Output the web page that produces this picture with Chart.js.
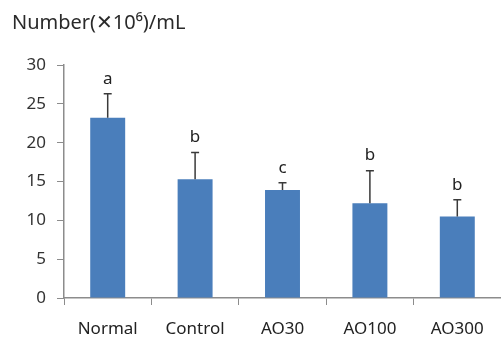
<!DOCTYPE html>
<html>
<head>
<meta charset="utf-8">
<script src="https://cdn.jsdelivr.net/npm/chart.js@4"></script>
<style>
  body { margin: 0; background: #fff; }
  canvas { display: block; }
</style>
</head>
<body>
<canvas id="chart" width="501" height="341"></canvas>
<script>
"use strict";

// data
const categories = ["Normal", "Control", "AO30", "AO100", "AO300"];
const means = [23.2, 15.3, 13.9, 12.2, 10.5];
const errors = [3.1, 3.45, 0.95, 4.2, 2.15];
const letters = ["a", "b", "c", "b", "b"];
const yMin = 0;
const yMax = 30;
const yStep = 5;
const yTitle = "Number(\u271510\u2076)/mL";

const fontFamily = "'Noto Sans', 'DejaVu Sans', sans-serif";

// error bars, significance letters and the axis title
const extrasPlugin = {
  id: "extras",
  afterDatasetsDraw(chart) {
    const ctx = chart.ctx;
    const yScale = chart.scales.y;
    const meta = chart.getDatasetMeta(0);
    ctx.save();
    meta.data.forEach((bar, i) => {
      const top = yScale.getPixelForValue(means[i] + errors[i]);
      const base = yScale.getPixelForValue(means[i]);
      ctx.strokeStyle = "#3a3a3a";
      ctx.lineWidth = 1.5;
      ctx.beginPath();
      ctx.moveTo(bar.x, base);
      ctx.lineTo(bar.x, top);
      ctx.moveTo(bar.x - 4, top);
      ctx.lineTo(bar.x + 4, top);
      ctx.stroke();
      // letter above the error bar
      ctx.fillStyle = "#222";
      ctx.font = "17px " + fontFamily;
      ctx.textAlign = "center";
      ctx.textBaseline = "middle";
      ctx.fillText(letters[i], bar.x, top - 15);
    });
    // y axis title at the top left
    ctx.fillStyle = "#2a2a2a";
    ctx.font = "20px " + fontFamily;
    ctx.textAlign = "left";
    ctx.textBaseline = "middle";
    ctx.fillText(yTitle, 12, 23);
    ctx.restore();
  }
};

const chart = new Chart(document.getElementById("chart"), {
  type: "bar",
  data: {
    labels: categories,
    datasets: [{
      data: means,
      backgroundColor: "#4a7ebb",
      barPercentage: 0.4,
      categoryPercentage: 1.0
    }]
  },
  options: {
    responsive: false,
    animation: false,
    layout: { padding: { top: 65, right: 0, left: 0, bottom: 0 } },
    plugins: {
      legend: { display: false },
      tooltip: { enabled: false }
    },
    scales: {
      x: {
        grid: { drawOnChartArea: false, tickLength: 7, color: "#8c8c8c", offset: true },
        border: { color: "#8c8c8c", width: 1.5 },
        ticks: { color: "#222", padding: 14, font: { size: 17, family: fontFamily } },
        afterFit(scale) { scale.height = 341 - 298; }
      },
      y: {
        min: yMin,
        max: yMax,
        grid: { drawOnChartArea: false, tickLength: 7, color: "#8c8c8c" },
        border: { color: "#8c8c8c", width: 1.5 },
        ticks: { stepSize: yStep, color: "#333", padding: 11, font: { size: 17, family: fontFamily } },
        afterFit(scale) { scale.width = 64; }
      }
    }
  },
  plugins: [extrasPlugin]
});
</script>
</body>
</html>
